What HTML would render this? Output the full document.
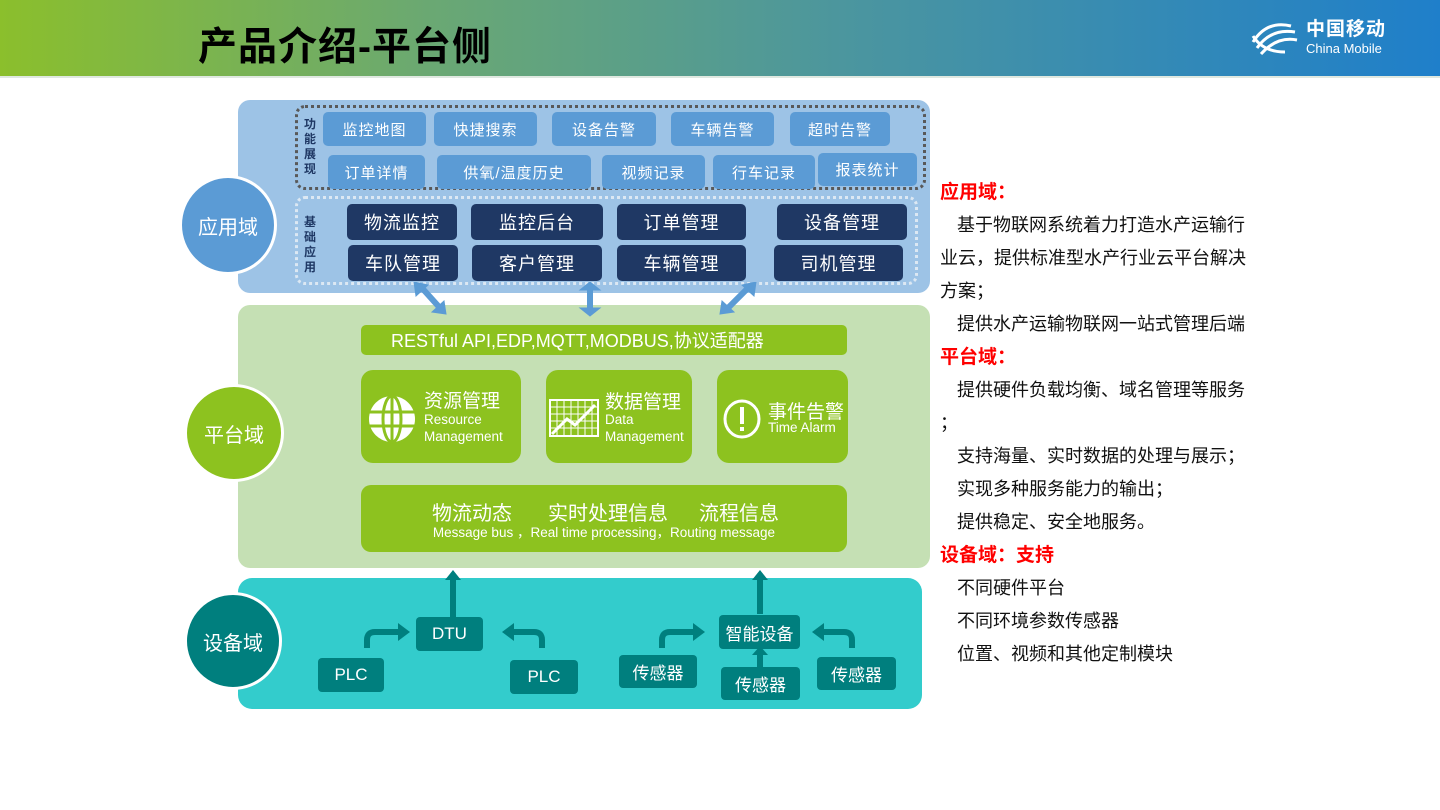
<!DOCTYPE html>
<html><head><meta charset="utf-8"><style>
*{margin:0;padding:0;box-sizing:border-box}
body{width:1440px;height:810px;background:#fff;position:relative;overflow:hidden;font-family:"Liberation Sans","Noto Sans CJK SC",sans-serif}
.a{position:absolute}
.hdr{left:0;top:0;width:1440px;height:78px;background:linear-gradient(90deg,#8bbf2c 0%,#6aa873 30%,#4a95a0 60%,#1f7fca 100%);border-bottom:2px solid #dfe8e0}
.b{position:absolute;display:flex;align-items:center;justify-content:center;color:#fff;border-radius:5px;white-space:nowrap}
.lb{background:#5b9bd5;font-size:15px;letter-spacing:1px}
.db{background:#1f3864;font-size:18px;letter-spacing:1px}
.tb{background:#007f7e;font-size:17px;border-radius:4px}
.circ{position:absolute;border-radius:50%;border:3px solid #fff;color:#fff;font-size:20px;display:flex;align-items:center;justify-content:center}
.vl{position:absolute;font-size:12px;font-weight:bold;color:#1f3864;width:14px;line-height:15px;text-align:center}
.rt{position:absolute;left:940px;width:330px;font-size:18px;color:#111;line-height:33px}
.rt .h{color:#f00;font-weight:bold;font-size:19px}
.rt .i{padding-left:17px}
</style></head><body>
<div class="a hdr"></div>
<div class="a" style="left:198px;top:16px;font-size:39px;font-weight:bold;color:#000;letter-spacing:1px">产品介绍-平台侧</div>
<svg class="a" style="left:1249px;top:20px" width="52" height="38" viewBox="0 0 52 38"><g fill="none" stroke="#fff" stroke-width="3"><path d="M4 22 Q18 0 42 6"/><path d="M8 28 Q22 8 46 12"/><path d="M12 34 Q28 16 48 20"/><path d="M4 16 Q14 32 36 32"/></g></svg>
<div class="a" style="left:1306px;top:19px;color:#fff;font-size:19px;font-weight:bold;letter-spacing:1px;line-height:22px">中国移动</div>
<div class="a" style="left:1306px;top:41px;color:#fff;font-size:13px;line-height:15px">China Mobile</div>

<!-- app domain -->
<div class="a" style="left:238px;top:100px;width:692px;height:193px;background:#9dc3e6;border-radius:12px"></div>
<div class="a" style="left:295px;top:105px;width:631px;height:85px;border:3px dotted #595959;border-radius:10px"></div>
<div class="a" style="left:295px;top:196px;width:623px;height:89px;border:3px dotted #dce8f3;border-radius:10px"></div>
<div class="vl" style="left:303px;top:117px">功能展现</div>
<div class="vl" style="left:303px;top:215px">基础应用</div>
<div class="b lb" style="left:323px;top:112px;width:103px;height:34px">监控地图</div>
<div class="b lb" style="left:434px;top:112px;width:103px;height:34px">快捷搜索</div>
<div class="b lb" style="left:552px;top:112px;width:104px;height:34px">设备告警</div>
<div class="b lb" style="left:671px;top:112px;width:103px;height:34px">车辆告警</div>
<div class="b lb" style="left:790px;top:112px;width:100px;height:34px">超时告警</div>
<div class="b lb" style="left:328px;top:155px;width:97px;height:34px">订单详情</div>
<div class="b lb" style="left:437px;top:155px;width:154px;height:34px">供氧/温度历史</div>
<div class="b lb" style="left:602px;top:155px;width:103px;height:34px">视频记录</div>
<div class="b lb" style="left:713px;top:155px;width:102px;height:34px">行车记录</div>
<div class="b lb" style="left:818px;top:153px;width:99px;height:33px">报表统计</div>
<div class="b db" style="left:347px;top:204px;width:110px;height:36px">物流监控</div>
<div class="b db" style="left:471px;top:204px;width:132px;height:36px">监控后台</div>
<div class="b db" style="left:617px;top:204px;width:129px;height:36px">订单管理</div>
<div class="b db" style="left:777px;top:204px;width:130px;height:36px">设备管理</div>
<div class="b db" style="left:348px;top:245px;width:110px;height:36px">车队管理</div>
<div class="b db" style="left:472px;top:245px;width:130px;height:36px">客户管理</div>
<div class="b db" style="left:617px;top:245px;width:129px;height:36px">车辆管理</div>
<div class="b db" style="left:774px;top:245px;width:129px;height:36px">司机管理</div>
<div class="circ" style="left:179px;top:175px;width:98px;height:100px;background:#5b9bd5">应用域</div>

<!-- platform -->
<div class="a" style="left:238px;top:305px;width:692px;height:263px;background:#c5e0b4;border-radius:12px"></div>
<svg class="a" style="left:400px;top:282px" width="370" height="36"><g fill="#5b9bd5" stroke="#5b9bd5"><line x1="22" y1="6" x2="40" y2="26" stroke-width="6"/><polygon points="14,0 28,3 16,14"/><polygon points="46,32 32,30 44,19"/><line x1="190" y1="6" x2="190" y2="28" stroke-width="6"/><polygon points="180,8 200,8 190,0"/><polygon points="180,26 200,26 190,34"/><line x1="348" y1="6" x2="328" y2="26" stroke-width="6"/><polygon points="356,0 342,3 354,14"/><polygon points="320,32 334,30 322,19"/></g></svg>
<div class="b" style="left:361px;top:325px;width:486px;height:30px;background:#8dc21f;font-size:18px;justify-content:flex-start;padding-left:30px">RESTful API,EDP,MQTT,MODBUS,协议适配器</div>
<div class="a" style="left:361px;top:370px;width:160px;height:93px;background:#8dc21f;border-radius:12px"></div>
<div class="a" style="left:546px;top:370px;width:146px;height:93px;background:#8dc21f;border-radius:12px"></div>
<div class="a" style="left:717px;top:370px;width:131px;height:93px;background:#8dc21f;border-radius:12px"></div>
<svg class="a" style="left:367px;top:394px" width="50" height="50" viewBox="0 0 50 50"><circle cx="25" cy="25" r="23" fill="#fff"/><g stroke="#8dc21f" stroke-width="3" fill="none"><ellipse cx="25" cy="25" rx="9" ry="23"/><line x1="25" y1="2" x2="25" y2="48"/><line x1="2" y1="18" x2="48" y2="18"/><line x1="2" y1="32" x2="48" y2="32"/></g></svg>
<svg class="a" style="left:549px;top:399px" width="50" height="38"><rect x="1" y="1" width="48" height="36" fill="none" stroke="#fff" stroke-width="2"/><g stroke="#fff" stroke-width="1"><path d="M1 8H49M1 15H49M1 22H49M1 29H49M8 1V37M15 1V37M22 1V37M29 1V37M36 1V37M43 1V37"/></g><polyline points="3,35 18,20 26,26 46,6" fill="none" stroke="#fff" stroke-width="3"/></svg>
<svg class="a" style="left:722px;top:398px" width="40" height="42"><ellipse cx="20" cy="21" rx="17" ry="18" fill="none" stroke="#fff" stroke-width="3"/><rect x="18" y="9" width="4" height="17" fill="#fff"/><rect x="18" y="29" width="4" height="4" fill="#fff"/></svg>
<div class="a" style="left:424px;top:386px;color:#fff;font-size:19px">资源管理</div>
<div class="a" style="left:424px;top:411px;color:#fff;font-size:13.5px;line-height:17px">Resource<br>Management</div>
<div class="a" style="left:605px;top:387px;color:#fff;font-size:19px">数据管理</div>
<div class="a" style="left:605px;top:411px;color:#fff;font-size:13.5px;line-height:17px">Data<br>Management</div>
<div class="a" style="left:768px;top:397px;color:#fff;font-size:19px">事件告警</div>
<div class="a" style="left:768px;top:420px;color:#fff;font-size:13.5px">Time Alarm</div>
<div class="a" style="left:361px;top:485px;width:486px;height:67px;background:#8dc21f;border-radius:10px;color:#fff">
<div class="a" style="left:71px;top:12px;font-size:20px">物流动态</div>
<div class="a" style="left:187px;top:12px;font-size:20px">实时处理信息</div>
<div class="a" style="left:338px;top:12px;font-size:20px">流程信息</div>
<div class="a" style="left:0;width:486px;top:36px;text-align:center;font-size:13.5px">Message bus ，Real time processing，Routing message</div></div>
<div class="circ" style="left:184px;top:384px;width:100px;height:98px;background:#8dc21f">平台域</div>

<!-- device -->
<div class="a" style="left:238px;top:578px;width:684px;height:131px;background:#33cccc;border-radius:14px"></div>
<svg class="a" style="left:300px;top:568px" width="620" height="80"><g fill="#007f7e"><rect x="150" y="10" width="6" height="40"/><polygon points="145,12 161,12 153,2"/><rect x="457" y="10" width="6" height="36"/><polygon points="452,12 468,12 460,2"/></g>
<g fill="none" stroke="#007f7e" stroke-width="6"><path d="M67 89 V72 Q67 64 75 64 H100"/><path d="M242 89 V72 Q242 64 234 64 H212"/><path d="M362 87 V72 Q362 64 370 64 H395"/><path d="M552 87 V72 Q552 64 544 64 H522"/></g>
<g fill="#007f7e"><polygon points="98,55 110,64 98,73"/><polygon points="214,55 202,64 214,73"/><polygon points="393,55 405,64 393,73"/><polygon points="524,55 512,64 524,73"/></g></svg>
<svg class="a" style="left:750px;top:646px" width="20" height="24"><rect x="7" y="6" width="6" height="18" fill="#007f7e"/><polygon points="2,9 18,9 10,0" fill="#007f7e"/></svg>
<div class="b tb" style="left:416px;top:617px;width:67px;height:34px">DTU</div>
<div class="b tb" style="left:318px;top:658px;width:66px;height:34px">PLC</div>
<div class="b tb" style="left:510px;top:660px;width:68px;height:34px">PLC</div>
<div class="b tb" style="left:719px;top:615px;width:81px;height:34px">智能设备</div>
<div class="b tb" style="left:619px;top:655px;width:78px;height:33px">传感器</div>
<div class="b tb" style="left:721px;top:667px;width:79px;height:33px">传感器</div>
<div class="b tb" style="left:817px;top:657px;width:79px;height:33px">传感器</div>
<div class="circ" style="left:184px;top:592px;width:98px;height:98px;background:#007f7e">设备域</div>

<!-- right text -->
<div class="rt" style="top:176px">
<div class="h">应用域：</div>
<div class="i">基于物联网系统着力打造水产运输行</div>
<div>业云，提供标准型水产行业云平台解决</div>
<div>方案；</div>
<div class="i">提供水产运输物联网一站式管理后端</div>
<div class="h">平台域：</div>
<div class="i">提供硬件负载均衡、域名管理等服务</div>
<div>；</div>
<div class="i">支持海量、实时数据的处理与展示；</div>
<div class="i">实现多种服务能力的输出；</div>
<div class="i">提供稳定、安全地服务。</div>
<div class="h">设备域：支持</div>
<div class="i">不同硬件平台</div>
<div class="i">不同环境参数传感器</div>
<div class="i">位置、视频和其他定制模块</div>
</div>
</body></html>
